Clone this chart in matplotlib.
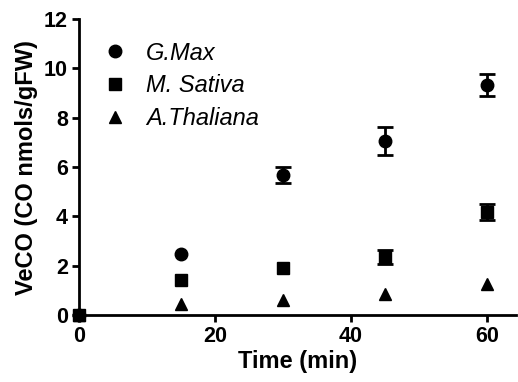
import matplotlib.pyplot as plt

plt.rcParams['font.family'] = ['Liberation Sans', 'DejaVu Sans']

time = [0, 15, 30, 45, 60]
gmax = [0, 2.47, 5.68, 7.07, 9.33]
gmax_err = [0, 0, 0.31, 0.57, 0.44]
msat = [0, 1.42, 1.90, 2.36, 4.18]
msat_err = [0, 0, 0, 0.27, 0.32]
athal = [0, 0.47, 0.61, 0.85, 1.26]
athal_err = [0, 0, 0, 0, 0]

fig = plt.figure(figsize=(5.18, 3.82), dpi=100)
ax = fig.add_axes([0.1525, 0.175, 0.8435, 0.775])

series = [
    (gmax, gmax_err, 'o', 'G.Max', 9),
    (msat, msat_err, 's', 'M. Sativa', 8),
    (athal, athal_err, '^', 'A.Thaliana', 8),
]
for vals, err, mk, name, ms in series:
    ax.plot(time, vals, mk, color='black', ms=ms, label=name,
            clip_on=False, zorder=3)
    # error bars only where there is a spread
    ex = [t for t, e in zip(time, err) if e > 0]
    ey = [v for v, e in zip(vals, err) if e > 0]
    ee = [e for e in err if e > 0]
    if ex:
        ax.errorbar(ex, ey, yerr=ee, fmt='none', ecolor='black',
                    elinewidth=2, capsize=5.5, capthick=2, zorder=3)

ax.set_xlim(0, 64.3)
ax.set_ylim(0, 12)
ax.set_xticks([0, 20, 40, 60])
ax.set_yticks([0, 2, 4, 6, 8, 10, 12])
for s in ['top', 'right']:
    ax.spines[s].set_visible(False)
for s in ['left', 'bottom']:
    ax.spines[s].set_linewidth(2)
ax.tick_params(width=2, length=5, labelsize=15.5, direction='out', pad=3)
for lab in ax.get_xticklabels() + ax.get_yticklabels():
    lab.set_fontweight('bold')
ax.set_xlabel('Time (min)', fontsize=17, fontweight='bold', labelpad=2)
ax.set_ylabel('VeCO (CO nmols/gFW)', fontsize=17, fontweight='bold', labelpad=4)

leg = ax.legend(loc='upper left', bbox_to_anchor=(0.013, 0.98), frameon=False,
                prop={'style': 'italic', 'size': 17}, handletextpad=0.7,
                handlelength=1.2, labelspacing=0.42, borderaxespad=0.3)

fig.savefig('out.png', dpi=100)
